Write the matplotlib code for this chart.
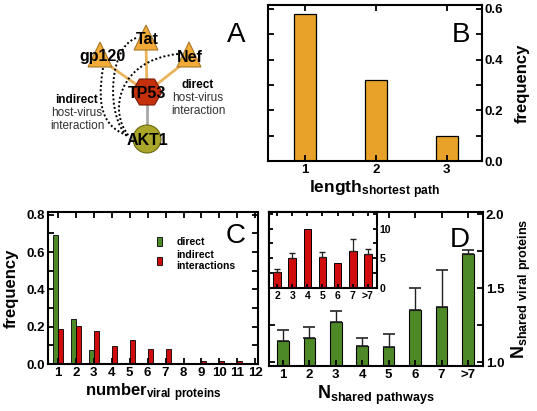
import numpy as np
import matplotlib
matplotlib.use('Agg')
import matplotlib.pyplot as plt
from matplotlib.patches import Polygon, RegularPolygon, Circle, PathPatch
from matplotlib.path import Path
from matplotlib.ticker import MultipleLocator

plt.rcParams['font.family'] = ['Liberation Sans', 'DejaVu Sans']
plt.rcParams['font.weight'] = 'bold'
plt.rcParams['mathtext.default'] = 'regular'

# panel B
path_len = [1, 2, 3]
path_freq = [0.58, 0.32, 0.10]

# panel C
n_viral = list(range(1, 13))
direct_freq = [0.69, 0.24, 0.075, 0.005, 0.005, 0, 0, 0, 0, 0, 0, 0]
indirect_freq = [0.19, 0.205, 0.175, 0.098, 0.128, 0.08, 0.08, 0, 0.018, 0.018, 0.018, 0]

# panel D
pathway_labels = ['1', '2', '3', '4', '5', '6', '7', '>7']
shared_viral = [1.14, 1.165, 1.27, 1.105, 1.10, 1.35, 1.375, 1.73]
shared_viral_top = [1.215, 1.235, 1.345, 1.16, 1.19, 1.50, 1.62, 1.755]

# inset of D
inset_labels = ['2', '3', '4', '5', '6', '7', '>7']
inset_vals = [2.75, 5.0, 10.0, 5.3, 4.2, 6.2, 5.75]
inset_err = [0.5, 0.95, 0, 0.7, 0, 2.1, 0.85]

orange = '#e8a22a'
green = '#4d8a27'
red = '#d00c0c'

W, H = 537, 411
fig = plt.figure(figsize=(W / 100, H / 100), dpi=100)


def px_axes(l, t, r, b):
    return fig.add_axes([l / W, 1 - b / H, (r - l) / W, (b - t) / H])


def style(ax, lab_size=9.5):
    for s in ax.spines.values():
        s.set_linewidth(1.5)
    ax.tick_params(which='both', direction='in', top=True, right=True,
                   width=1.3, labelsize=lab_size, pad=2)
    ax.tick_params(which='major', length=4)
    ax.tick_params(which='minor', length=4)


# ---------------- A: network sketch ----------------
axa = px_axes(0, 0, 260, 200)
axa.set_xlim(0, 260)
axa.set_ylim(200, 0)
axa.axis('off')

tp53 = (147, 92)
akt1 = (147, 139)
tris = {'gp120': (100, 42, 57), 'Tat': (146, 25, 40), 'Nef': (189, 42, 57)}

for name, (x, y, ty) in tris.items():
    axa.plot([x, tp53[0]], [y + 17, tp53[1]], color='#eab45c', lw=2, zorder=1)
axa.plot([tp53[0], akt1[0]], [tp53[1], akt1[1]], color='#a8a8a8', lw=2, zorder=1)

curves = [[(103, 68), (96, 110), (105, 128), (129, 136)],
          [(136, 38), (108, 48), (106, 118), (128, 137)],
          [(178, 54), (118, 60), (108, 112), (129, 136)]]
for c in curves:
    p = Path(c, [Path.MOVETO, Path.CURVE4, Path.CURVE4, Path.CURVE4])
    axa.add_patch(PathPatch(p, fill=False, ls=(0, (1, 1.2)), lw=1.4,
                            color='black', zorder=4))

for name, (x, y, ty) in tris.items():
    axa.add_patch(Polygon([(x, y), (x - 12, y + 25), (x + 12, y + 25)],
                          closed=True, fc='#f1ab36', ec='#a8782a', lw=0.8, zorder=2))
    axa.text(x + 2 if name == 'gp120' else x + 1, ty, name, ha='center', va='center',
             fontsize=11.5, fontweight='bold', zorder=5)

axa.add_patch(RegularPolygon(tp53, 6, radius=15, orientation=np.pi / 6,
                             fc='#c4300c', ec='#7a1a05', lw=0.8, zorder=2))
axa.text(tp53[0], tp53[1] + 1, 'TP53', ha='center', va='center', fontsize=11.5,
         fontweight='bold', zorder=5)
axa.add_patch(Circle(akt1, 14, fc='#aaa62a', ec='#6c6a12', lw=0.8, zorder=2))
axa.text(akt1[0], akt1[1] + 1, 'AKT1', ha='center', va='center', fontsize=11.5,
         fontweight='bold', zorder=5)

axa.text(77, 100, 'indirect', ha='center', va='center', fontsize=8.5, fontweight='bold')
axa.text(77, 113, 'host-virus', ha='center', va='center', fontsize=8.5,
         fontweight='normal', color='#333333')
axa.text(77, 126, 'interaction', ha='center', va='center', fontsize=8.5,
         fontweight='normal', color='#333333')
axa.text(198, 85, 'direct', ha='center', va='center', fontsize=8.5, fontweight='bold')
axa.text(198, 98, 'host-virus', ha='center', va='center', fontsize=8.5,
         fontweight='normal', color='#333333')
axa.text(198, 111, 'interaction', ha='center', va='center', fontsize=8.5,
         fontweight='normal', color='#333333')
axa.text(236, 35, 'A', ha='center', va='center', fontsize=20, fontweight='normal')

# ---------------- B ----------------
axb = px_axes(268, 5, 482, 161)
axb.bar(path_len, path_freq, width=0.31, color=orange, edgecolor='black', lw=0.9)
axb.set_xlim(0.48, 3.5)
axb.set_ylim(0, 0.615)
style(axb)
axb.set_xticks(path_len)
axb.yaxis.set_major_locator(MultipleLocator(0.2))
axb.yaxis.set_minor_locator(MultipleLocator(0.1))
axb.yaxis.set_major_formatter(matplotlib.ticker.FormatStrFormatter('%.1f'))
axb.tick_params(axis='y', labelleft=False, labelright=True)
axb.yaxis.set_label_position('right')
axb.set_ylabel('frequency', fontsize=12, fontweight='bold', labelpad=8)
axb.set_xlabel('length$_{shortest\\ path}$', fontsize=12.5, fontweight='bold', labelpad=2)
axb.text(0.9, 0.805, 'B', transform=axb.transAxes, ha='center', va='center',
         fontsize=20, fontweight='normal')

# ---------------- C ----------------
axc = px_axes(48, 212, 258, 364)
x = np.array(n_viral)
axc.bar(x - 0.14, direct_freq, width=0.28, color=green, edgecolor='black', lw=0.6,
        label='direct')
axc.bar(x + 0.14, indirect_freq, width=0.28, color=red, edgecolor='black', lw=0.6,
        label='indirect\ninteractions')
axc.set_xlim(0.45, 12.15)
axc.set_ylim(0, 0.815)
style(axc)
axc.set_xticks(n_viral)
axc.yaxis.set_major_locator(MultipleLocator(0.2))
axc.yaxis.set_minor_locator(MultipleLocator(0.1))
axc.yaxis.set_major_formatter(matplotlib.ticker.FormatStrFormatter('%.1f'))
axc.set_ylabel('frequency', fontsize=12, fontweight='bold', labelpad=6)
axc.set_xlabel('number$_{viral\\ proteins}$', fontsize=12, fontweight='bold', labelpad=2)
axc.legend(loc='upper left', bbox_to_anchor=(0.52, 0.835), frameon=False,
           handlelength=0.45, handleheight=0.9, handletextpad=1.4,
           labelspacing=0.25, borderpad=0, borderaxespad=0,
           prop={'size': 7.5, 'weight': 'bold'})
axc.text(0.893, 0.84, 'C', transform=axc.transAxes, ha='center', va='center',
         fontsize=20, fontweight='normal')

# ---------------- D ----------------
axd = px_axes(269, 212, 483, 366)
xd = np.arange(1, len(pathway_labels) + 1)
errd = np.array(shared_viral_top) - np.array(shared_viral)
axd.bar(xd, shared_viral, width=0.44, color=green, edgecolor='black', lw=0.8)
axd.errorbar(xd, shared_viral, yerr=[np.zeros_like(errd), errd], fmt='none',
             ecolor='#222222', elinewidth=1, capsize=4.5, capthick=1.2)
axd.set_xlim(0.47, 8.57)
axd.set_ylim(0.973, 2.014)
style(axd)
axd.set_xticks(xd)
axd.set_xticklabels(pathway_labels)
axd.yaxis.set_major_locator(MultipleLocator(0.5))
axd.yaxis.set_minor_locator(MultipleLocator(0.25))
axd.yaxis.set_major_formatter(matplotlib.ticker.FormatStrFormatter('%.1f'))
axd.tick_params(axis='y', labelleft=False, labelright=True)
axd.yaxis.set_label_position('right')
axd.set_ylabel('N$_{shared\\ viral\\ proteins}$', fontsize=13, fontweight='bold', labelpad=4)
axd.set_xlabel('N$_{shared\\ pathways}$', fontsize=13, fontweight='bold', labelpad=2)
axd.text(0.89, 0.82, 'D', transform=axd.transAxes, ha='center', va='center',
         fontsize=20, fontweight='normal')

# inset
axi = px_axes(269, 212, 377, 288)
xi = np.arange(2, 2 + len(inset_labels))
erri = np.array(inset_err)
axi.bar(xi, inset_vals, width=0.5, color=red, edgecolor='black', lw=0.7)
m = erri > 0
axi.errorbar(xi[m], np.array(inset_vals)[m], yerr=[np.zeros(m.sum()), erri[m]],
             fmt='none', ecolor='#222222', elinewidth=0.9, capsize=2.5, capthick=1)
axi.set_xlim(1.47, 8.6)
axi.set_ylim(0, 12.8)
style(axi, lab_size=7.5)
axi.tick_params(which='both', length=3)
axi.set_xticks(xi)
axi.set_xticklabels(inset_labels)
axi.yaxis.set_major_locator(MultipleLocator(5))
axi.yaxis.set_minor_locator(MultipleLocator(2.5))
axi.tick_params(axis='y', labelleft=False, labelright=True)

fig.savefig('out.png', dpi=100)
